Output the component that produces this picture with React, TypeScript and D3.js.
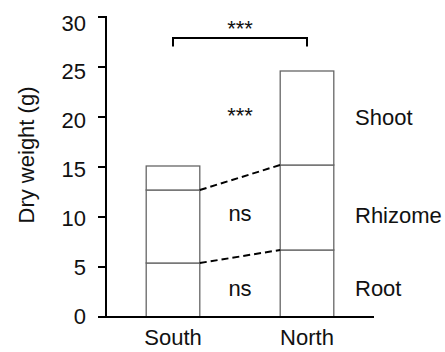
import React from 'react';
import * as d3 from 'd3';

// dry weight per site, stacked root / rhizome / shoot
const sites = ['South', 'North'];
const parts = ['Root', 'Rhizome', 'Shoot'];
const root = [5.4, 6.7];
const rhizome = [7.3, 8.5];
const shoot = [2.4, 9.4];
const yTicks = [0, 5, 10, 15, 20, 25, 30];
const sigLabels = ['ns', 'ns', '***'];
const topSig = '***';

const W = 445;
const H = 352;
const font = 'Arial, "Liberation Sans", sans-serif';
const fs = 22;

const App = () => {
  const rows = sites.map((s, i) => ({ site: s, Root: root[i], Rhizome: rhizome[i], Shoot: shoot[i] }));
  const stacked = d3.stack().keys(parts)(rows as any);

  const y = d3.scaleLinear().domain([0, 30]).range([317, 17]);
  // tick labels in the original sit a little off their ticks near the top
  const yLab = d3.scaleLinear().domain([0, 30]).range([316, 23]);
  const x = d3.scaleBand().domain(sites).range([106, 374]).paddingInner(0.6).paddingOuter(0.3);
  const bw = x.bandwidth();

  const xs = x('South') as number;
  const xn = x('North') as number;
  const midX = (xs + bw + xn) / 2;

  return (
    <svg width={W} height={H} style={{ position: 'absolute', left: 0, top: 0 }} fontFamily={font} fill="#111">
      {/* stacked bars */}
      {stacked.map((layer) =>
        layer.map((d, i) => (
          <rect key={layer.key + i} x={x(sites[i])} y={y(d[1])} width={bw} height={y(d[0]) - y(d[1])}
            fill="#fff" stroke="#666" strokeWidth={1.3} />
        ))
      )}

      {/* dashed connectors between segment tops */}
      {stacked.slice(0, 2).map((layer) => (
        <line key={'c' + layer.key} x1={xs + bw} y1={y(layer[0][1])} x2={xn} y2={y(layer[1][1])}
          stroke="#000" strokeWidth={2} strokeDasharray="7,4" />
      ))}

      {/* significance labels between bars */}
      {sigLabels.map((t, i) => {
        const yy = i === 0 ? y(2.9) : i === 1 ? y(10.4) : y(20.2);
        return (
          <text key={'s' + i} x={midX} y={yy} textAnchor="middle" dominantBaseline="central" fontSize={fs}>{t}</text>
        );
      })}

      {/* part labels on the right */}
      {parts.map((p, i) => {
        const yy = i === 0 ? y(2.9) : i === 1 ? y(10.2) : y(20);
        return (
          <text key={p} x={355} y={yy} dominantBaseline="central" fontSize={fs}>{p}</text>
        );
      })}

      {/* bracket */}
      <path d={`M${xs + bw / 2},46.5V38H${xn + bw / 2}V46.5`} fill="none" stroke="#000" strokeWidth={2} />
      <text x={(xs + xn + bw) / 2} y={36} textAnchor="middle" fontSize={fs}>{topSig}</text>

      {/* axes */}
      <line x1={106} y1={16} x2={106} y2={317} stroke="#000" strokeWidth={2} />
      <line x1={105} y1={317} x2={374} y2={317} stroke="#000" strokeWidth={2} />
      {yTicks.map((t) => (
        <g key={t}>
          <line x1={98} x2={106} y1={y(t)} y2={y(t)} stroke="#000" strokeWidth={2} />
          <text x={86} y={yLab(t)} textAnchor="end" dominantBaseline="central" fontSize={fs}>{t}</text>
        </g>
      ))}
      {sites.map((s) => (
        <text key={s} x={(x(s) as number) + bw / 2} y={345} textAnchor="middle" fontSize={fs}>{s}</text>
      ))}
      <text transform={`translate(26,${155}) rotate(-90)`} textAnchor="middle" dominantBaseline="central" fontSize={fs}>
        Dry weight (g)
      </text>
    </svg>
  );
};

export default App;
